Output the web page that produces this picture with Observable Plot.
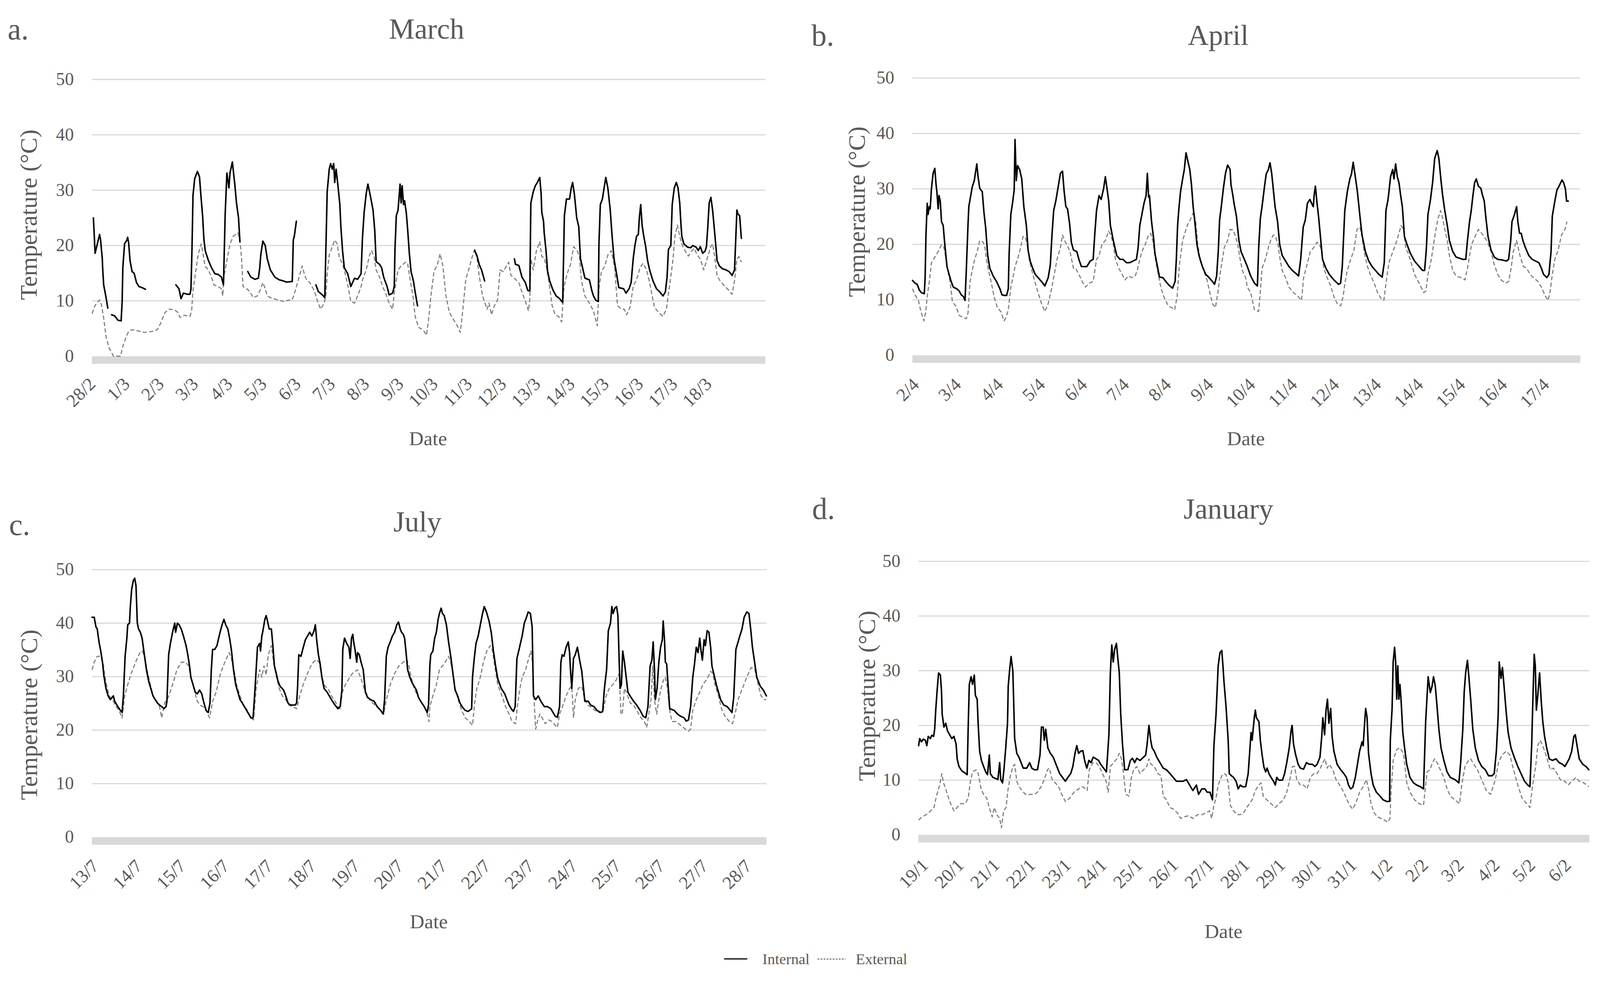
<!DOCTYPE html>
<html><head><meta charset="utf-8">
<script src="https://cdn.jsdelivr.net/npm/d3@7"></script>
<script src="https://cdn.jsdelivr.net/npm/@observablehq/plot@0.6"></script>
<style>
html,body{margin:0;padding:0;background:#fff;overflow:hidden;}
#page{position:absolute;left:0;top:0;width:4216px;height:2571px;overflow:hidden;font-family:"Liberation Serif",serif;color:#595959;background:#fff;transform-origin:0 0;}
.t{position:absolute;white-space:nowrap;line-height:1;}
.panel{position:absolute;}
</style></head><body><div id="page"></div>
<script>
// ---------- data ----------
const yTicks = [0, 10, 20, 30, 40, 50];
const marchLabels = ["28/2","1/3","2/3","3/3","4/3","5/3","6/3","7/3","8/3","9/3","10/3","11/3","12/3","13/3","14/3","15/3","16/3","17/3","18/3"];
const aprilLabels = ["2/4","3/4","4/4","5/4","6/4","7/4","8/4","9/4","10/4","11/4","12/4","13/4","14/4","15/4","16/4","17/4"];
const julyLabels = ["13/7","14/7","15/7","16/7","17/7","18/7","19/7","20/7","21/7","22/7","23/7","24/7","25/7","26/7","27/7","28/7"];
const januaryLabels = ["19/1","20/1","21/1","22/1","23/1","24/1","25/1","26/1","27/1","28/1","29/1","30/1","31/1","1/2","2/2","3/2","4/2","5/2","6/2"];
const seriesNames = ["Internal", "External"];

// [day index, °C]; null = logger gap
const marchInternal = [[0.04,25.0],[0.09,18.6],[0.22,22.0],[0.25,21.0],[0.30,17.6],[0.31,16.0],[0.34,12.9],[0.41,10.6],[0.46,8.7],[0.51,null],
[0.57,7.5],[0.66,7.3],[0.76,6.5],[0.85,6.4],[0.88,9.9],[0.90,16.0],[0.95,20.3],[1.02,21.0],[1.04,21.5],[1.07,20.5],[1.11,17.3],[1.17,15.3],[1.23,15.0],[1.30,13.3],[1.37,12.6],[1.46,12.4],[1.56,12.1],[2.0,null],
[2.45,12.9],[2.54,12.2],[2.60,10.4],[2.67,11.4],[2.79,11.2],[2.86,11.2],[2.89,12.1],[2.92,19.3],[2.95,29.1],[3.00,32.1],[3.08,33.4],[3.14,32.4],[3.18,29.1],[3.23,25.4],[3.27,21.0],[3.31,19.0],[3.40,17.3],[3.49,16.0],[3.59,14.9],[3.68,14.8],[3.78,14.3],[3.84,12.9],[3.89,25.7],[3.94,33.1],[4.00,30.4],[4.03,33.1],[4.10,35.1],[4.17,31.1],[4.22,27.7],[4.28,25.0],[4.32,20.7],[4.43,null],
[4.55,15.3],[4.64,14.3],[4.76,13.9],[4.86,14.1],[4.90,16.0],[4.93,18.3],[4.99,20.8],[5.06,20.0],[5.12,17.6],[5.21,15.6],[5.34,14.3],[5.47,13.8],[5.59,13.6],[5.68,13.4],[5.85,13.5],[5.88,21.0],[5.91,21.7],[5.97,24.4],[6.3,null],
[6.54,12.9],[6.61,11.7],[6.71,11.2],[6.80,10.6],[6.87,29.7],[6.93,33.8],[6.97,34.8],[7.02,33.8],[7.06,34.8],[7.09,31.4],[7.13,33.8],[7.18,31.1],[7.24,27.4],[7.27,23.4],[7.32,19.0],[7.37,16.0],[7.47,14.9],[7.56,12.6],[7.67,14.1],[7.76,13.9],[7.86,14.9],[7.90,21.3],[7.95,26.0],[8.01,29.4],[8.06,31.1],[8.14,28.7],[8.21,26.4],[8.26,22.7],[8.30,17.1],[8.40,16.6],[8.46,16.0],[8.52,14.3],[8.62,12.6],[8.68,11.1],[8.78,11.4],[8.83,12.6],[8.85,19.3],[8.89,25.4],[8.94,26.4],[9.00,31.1],[9.03,27.7],[9.06,30.8],[9.10,27.4],[9.13,28.1],[9.18,26.0],[9.22,23.0],[9.27,18.6],[9.32,15.3],[9.39,13.6],[9.44,11.6],[9.51,9.1],[10.3,null],
[11.18,19.1],[11.25,18.1],[11.31,16.6],[11.38,15.6],[11.47,13.6],[11.9,null],
[12.34,17.6],[12.37,16.6],[12.47,16.4],[12.56,14.3],[12.66,13.3],[12.73,11.9],[12.79,11.8],[12.82,27.7],[12.89,29.7],[12.95,30.8],[13.01,31.4],[13.08,32.3],[13.12,29.4],[13.14,26.0],[13.19,24.4],[13.21,22.3],[13.26,19.3],[13.31,15.3],[13.37,13.6],[13.47,11.9],[13.56,10.9],[13.66,10.4],[13.75,9.7],[13.80,25.4],[13.86,28.4],[13.95,28.4],[14.00,30.4],[14.04,31.4],[14.09,29.4],[14.16,25.0],[14.22,23.4],[14.27,17.6],[14.33,16.0],[14.40,14.1],[14.53,13.8],[14.60,11.9],[14.65,10.9],[14.72,10.1],[14.79,9.9],[14.81,20.3],[14.85,27.4],[14.91,28.4],[14.96,30.4],[15.01,32.3],[15.07,30.4],[15.14,26.4],[15.19,22.0],[15.25,17.6],[15.34,14.3],[15.39,12.4],[15.53,12.2],[15.60,11.4],[15.69,12.2],[15.75,13.3],[15.81,17.6],[15.86,20.0],[15.91,21.7],[15.96,22.0],[15.99,25.0],[16.03,27.4],[16.07,23.7],[16.11,22.0],[16.17,20.0],[16.23,17.3],[16.29,15.6],[16.39,13.6],[16.49,12.2],[16.59,11.6],[16.68,10.9],[16.75,11.6],[16.80,14.3],[16.84,19.3],[16.91,20.0],[16.95,27.4],[17.01,30.4],[17.07,31.4],[17.12,30.4],[17.17,27.7],[17.20,24.4],[17.23,21.7],[17.29,20.3],[17.40,19.7],[17.49,19.6],[17.55,20.0],[17.65,19.7],[17.71,19.1],[17.77,19.8],[17.84,18.6],[17.91,19.0],[17.95,19.8],[17.99,23.4],[18.03,27.7],[18.08,28.7],[18.13,26.4],[18.16,24.4],[18.21,21.0],[18.26,17.3],[18.33,16.3],[18.42,15.8],[18.52,15.6],[18.61,15.3],[18.70,14.6],[18.77,15.6],[18.79,18.6],[18.84,26.4],[18.87,25.7],[18.92,25.4],[18.97,21.3]];

const marchExternal = [[0.00,7.7],[0.09,9.2],[0.22,10.2],[0.28,9.2],[0.34,6.9],[0.41,3.5],[0.50,1.5],[0.63,0.0],[0.73,0.0],[0.83,0.0],[0.90,1.8],[0.98,3.2],[1.07,4.5],[1.17,4.8],[1.33,4.6],[1.52,4.3],[1.77,4.5],[1.91,4.8],[2.00,5.9],[2.13,7.9],[2.25,8.5],[2.41,8.4],[2.51,7.9],[2.57,7.0],[2.70,7.4],[2.86,7.2],[2.91,8.2],[2.95,11.9],[3.02,14.9],[3.08,17.6],[3.14,19.3],[3.19,20.3],[3.24,18.6],[3.30,16.3],[3.40,15.6],[3.49,14.3],[3.56,12.9],[3.68,12.6],[3.78,12.2],[3.82,10.9],[3.85,14.3],[3.94,17.3],[4.03,20.3],[4.13,21.7],[4.26,22.3],[4.32,21.0],[4.37,17.6],[4.41,12.6],[4.52,12.2],[4.61,11.7],[4.71,10.6],[4.83,10.9],[4.93,12.2],[4.99,13.3],[5.06,12.2],[5.12,10.9],[5.21,10.6],[5.40,10.2],[5.60,9.9],[5.72,10.1],[5.85,10.2],[5.94,11.9],[6.05,14.3],[6.14,16.3],[6.20,14.9],[6.26,13.9],[6.36,13.3],[6.49,11.9],[6.59,9.9],[6.68,8.5],[6.78,9.6],[6.83,10.9],[6.87,14.9],[6.93,18.3],[6.99,19.3],[7.09,21.0],[7.16,20.3],[7.22,18.0],[7.32,16.6],[7.37,15.6],[7.47,12.9],[7.56,9.9],[7.67,9.6],[7.76,10.9],[7.86,12.6],[7.91,13.9],[8.01,15.6],[8.11,18.3],[8.17,19.1],[8.24,18.0],[8.30,15.6],[8.40,14.3],[8.49,12.6],[8.59,11.2],[8.68,9.6],[8.78,8.5],[8.84,11.9],[8.94,15.6],[9.03,16.3],[9.16,17.0],[9.22,16.8],[9.29,13.9],[9.37,11.2],[9.44,7.2],[9.54,5.2],[9.67,4.8],[9.77,3.8],[9.83,6.5],[9.90,10.9],[9.99,15.3],[10.09,16.6],[10.17,18.5],[10.25,16.3],[10.34,10.9],[10.44,7.9],[10.57,6.5],[10.67,5.5],[10.76,4.3],[10.83,8.2],[10.92,13.9],[11.02,16.0],[11.11,18.0],[11.18,19.3],[11.25,17.6],[11.31,14.6],[11.41,10.9],[11.54,8.5],[11.60,9.6],[11.67,7.5],[11.76,9.2],[11.85,10.2],[11.92,15.6],[12.01,15.3],[12.08,16.0],[12.17,17.0],[12.24,14.6],[12.37,13.9],[12.47,13.3],[12.56,11.6],[12.66,9.9],[12.75,8.2],[12.79,10.2],[12.82,17.6],[12.89,15.6],[12.98,19.0],[13.08,20.7],[13.14,18.0],[13.21,17.8],[13.28,16.0],[13.33,14.3],[13.44,9.2],[13.53,7.5],[13.63,7.2],[13.72,6.2],[13.79,12.6],[13.88,14.9],[13.98,16.6],[14.07,19.8],[14.18,19.0],[14.24,18.0],[14.30,13.6],[14.40,10.9],[14.53,9.6],[14.65,8.2],[14.76,5.5],[14.81,12.2],[14.88,15.3],[14.98,16.3],[15.07,18.3],[15.17,19.1],[15.27,16.0],[15.35,9.2],[15.46,8.5],[15.55,8.5],[15.62,7.5],[15.72,8.9],[15.81,12.6],[15.91,13.9],[16.01,16.0],[16.10,16.8],[16.20,15.6],[16.29,13.3],[16.43,8.9],[16.55,7.9],[16.68,7.2],[16.78,8.5],[16.87,12.6],[16.97,17.3],[17.03,21.7],[17.10,23.7],[17.17,21.7],[17.23,20.3],[17.33,19.0],[17.42,18.1],[17.52,19.0],[17.59,19.5],[17.68,18.3],[17.77,17.6],[17.87,15.6],[17.97,17.6],[18.07,19.7],[18.13,20.3],[18.19,18.0],[18.26,14.6],[18.35,13.6],[18.49,12.6],[18.61,11.9],[18.70,11.2],[18.77,13.6],[18.84,17.6],[18.90,18.0],[18.97,17.0]];

const aprilInternal = [[0.00,13.5],[0.06,13.0],[0.11,12.8],[0.16,11.8],[0.21,11.3],[0.28,11.1],[0.30,14.0],[0.32,21.7],[0.35,27.4],[0.37,25.4],[0.40,26.8],[0.42,26.4],[0.45,30.0],[0.49,32.8],[0.53,33.7],[0.56,30.8],[0.58,29.5],[0.61,26.4],[0.63,28.8],[0.66,27.8],[0.69,24.1],[0.73,23.4],[0.76,20.7],[0.82,16.0],[0.87,14.6],[0.92,13.3],[0.97,12.3],[1.05,12.0],[1.11,11.6],[1.16,10.9],[1.21,10.6],[1.25,9.9],[1.28,15.3],[1.32,23.4],[1.34,26.8],[1.37,28.1],[1.42,30.3],[1.47,31.5],[1.53,34.5],[1.56,32.2],[1.60,30.1],[1.66,29.5],[1.70,25.8],[1.74,23.1],[1.79,18.0],[1.84,15.7],[1.92,14.3],[2.00,13.3],[2.08,12.0],[2.13,10.9],[2.18,10.8],[2.24,10.8],[2.28,12.0],[2.30,18.4],[2.34,25.4],[2.38,27.4],[2.42,29.8],[2.44,38.9],[2.47,31.5],[2.50,34.2],[2.55,33.5],[2.60,31.8],[2.65,26.8],[2.71,23.4],[2.75,19.0],[2.80,17.0],[2.86,15.7],[2.92,14.6],[2.99,14.0],[3.07,13.3],[3.15,12.5],[3.23,14.0],[3.28,16.3],[3.32,21.7],[3.36,26.1],[3.41,27.8],[3.47,30.5],[3.52,32.8],[3.57,33.2],[3.61,29.5],[3.65,26.8],[3.69,26.4],[3.74,23.7],[3.78,20.4],[3.83,19.0],[3.91,18.7],[3.96,17.3],[4.02,16.0],[4.07,16.0],[4.15,16.0],[4.23,17.0],[4.30,17.3],[4.34,22.0],[4.38,26.1],[4.44,28.8],[4.49,28.1],[4.55,30.1],[4.59,32.2],[4.64,29.5],[4.67,27.8],[4.71,23.4],[4.78,20.7],[4.86,18.0],[4.94,17.3],[5.01,17.3],[5.09,16.7],[5.17,16.7],[5.25,17.0],[5.33,17.3],[5.37,19.4],[5.41,23.4],[5.46,25.4],[5.51,27.4],[5.56,28.8],[5.59,32.8],[5.62,28.5],[5.64,28.8],[5.69,24.1],[5.74,21.0],[5.77,18.4],[5.83,16.0],[5.88,14.1],[5.96,14.0],[6.03,13.3],[6.11,12.6],[6.19,12.1],[6.25,13.3],[6.28,17.3],[6.31,23.4],[6.34,26.4],[6.38,29.5],[6.43,31.8],[6.47,33.5],[6.51,36.5],[6.54,35.5],[6.60,33.5],[6.64,30.8],[6.68,26.8],[6.72,24.1],[6.77,20.0],[6.82,18.0],[6.90,16.0],[6.98,14.6],[7.06,14.0],[7.14,13.3],[7.19,12.8],[7.24,14.3],[7.28,19.0],[7.31,24.4],[7.35,26.8],[7.40,30.1],[7.45,32.8],[7.50,34.3],[7.56,33.5],[7.58,30.8],[7.62,29.1],[7.66,27.1],[7.71,25.1],[7.77,20.7],[7.82,18.7],[7.90,17.3],[7.97,16.0],[8.05,14.3],[8.14,13.0],[8.21,12.5],[8.24,19.4],[8.28,24.7],[8.32,26.8],[8.38,30.5],[8.42,32.7],[8.47,33.5],[8.51,34.7],[8.55,32.8],[8.59,29.8],[8.63,26.8],[8.69,24.1],[8.74,20.0],[8.80,18.0],[8.88,17.0],[8.96,16.0],[9.04,15.3],[9.12,14.8],[9.19,14.3],[9.24,17.3],[9.30,23.1],[9.35,24.4],[9.40,27.4],[9.46,28.1],[9.50,27.4],[9.54,26.8],[9.56,28.8],[9.59,30.5],[9.63,27.4],[9.67,24.7],[9.71,21.4],[9.76,17.3],[9.84,15.7],[9.92,14.6],[10.03,13.6],[10.14,12.8],[10.19,13.0],[10.23,16.0],[10.29,26.1],[10.35,29.5],[10.41,31.8],[10.45,32.7],[10.49,34.8],[10.54,32.2],[10.59,29.5],[10.65,25.1],[10.70,21.7],[10.78,18.7],[10.86,17.0],[10.94,16.0],[11.02,15.3],[11.10,14.6],[11.18,14.1],[11.23,16.7],[11.27,26.1],[11.32,28.1],[11.38,32.2],[11.43,33.5],[11.46,31.8],[11.50,34.5],[11.54,32.2],[11.58,31.1],[11.62,28.8],[11.66,26.8],[11.71,21.4],[11.77,20.0],[11.85,18.4],[11.95,17.0],[12.06,16.0],[12.14,15.3],[12.19,15.3],[12.23,19.0],[12.27,25.4],[12.33,28.1],[12.38,31.1],[12.43,35.5],[12.49,36.9],[12.53,35.5],[12.58,31.5],[12.62,28.8],[12.67,26.1],[12.73,23.4],[12.78,20.7],[12.86,18.7],[12.94,17.7],[13.02,17.5],[13.10,17.3],[13.17,17.3],[13.21,20.7],[13.26,24.1],[13.30,26.1],[13.34,28.8],[13.38,31.1],[13.42,31.8],[13.47,30.5],[13.53,30.1],[13.56,29.1],[13.61,27.8],[13.65,24.7],[13.70,21.4],[13.77,19.0],[13.85,17.7],[13.93,17.3],[14.03,17.2],[14.14,17.0],[14.19,17.3],[14.24,20.7],[14.27,24.1],[14.33,25.4],[14.38,26.8],[14.41,24.1],[14.45,22.0],[14.49,22.0],[14.53,20.7],[14.59,19.4],[14.67,18.0],[14.75,17.3],[14.83,17.0],[14.91,16.7],[14.97,15.7],[15.02,14.6],[15.10,14.0],[15.15,14.6],[15.20,18.7],[15.23,25.1],[15.29,27.8],[15.34,29.8],[15.39,30.5],[15.46,31.6],[15.50,31.1],[15.54,30.1],[15.57,27.8],[15.61,27.8]];

const aprilExternal = [[0.00,12.0],[0.06,10.9],[0.14,9.9],[0.20,7.9],[0.27,6.2],[0.31,7.6],[0.35,10.6],[0.40,13.3],[0.45,16.7],[0.53,17.7],[0.61,18.7],[0.69,19.9],[0.74,19.7],[0.79,17.7],[0.84,15.3],[0.90,13.0],[0.95,9.6],[1.03,8.9],[1.11,7.2],[1.18,6.9],[1.28,6.6],[1.32,7.6],[1.37,13.3],[1.42,15.3],[1.47,17.0],[1.55,19.0],[1.60,20.7],[1.68,20.4],[1.72,19.7],[1.76,17.3],[1.81,15.3],[1.87,13.3],[1.94,10.6],[2.02,8.6],[2.10,7.9],[2.18,6.2],[2.23,6.9],[2.28,8.2],[2.34,12.3],[2.39,14.0],[2.44,16.0],[2.50,17.3],[2.55,18.7],[2.63,21.4],[2.68,21.4],[2.73,20.0],[2.78,17.3],[2.84,15.3],[2.92,13.0],[2.99,11.3],[3.07,9.3],[3.15,7.9],[3.23,9.3],[3.31,12.0],[3.36,14.0],[3.44,17.3],[3.52,19.4],[3.57,21.7],[3.62,20.7],[3.67,20.0],[3.75,18.7],[3.83,15.7],[3.88,15.7],[3.96,14.6],[4.04,13.3],[4.12,12.3],[4.20,13.0],[4.30,13.3],[4.38,17.3],[4.44,18.0],[4.51,20.0],[4.59,20.7],[4.67,22.4],[4.72,21.7],[4.78,20.0],[4.83,17.3],[4.91,15.7],[4.99,14.6],[5.06,13.6],[5.14,14.3],[5.22,14.0],[5.30,14.3],[5.35,15.3],[5.41,17.3],[5.46,18.7],[5.54,20.0],[5.62,21.7],[5.67,22.0],[5.72,20.7],[5.77,18.0],[5.83,15.3],[5.91,12.3],[5.98,10.6],[6.09,8.9],[6.17,8.6],[6.24,8.2],[6.30,10.6],[6.35,16.0],[6.43,20.7],[6.54,23.4],[6.61,24.4],[6.69,25.8],[6.74,24.1],[6.79,20.0],[6.85,17.0],[6.93,15.3],[7.01,13.6],[7.09,10.9],[7.14,9.3],[7.21,8.6],[7.27,11.3],[7.32,14.6],[7.37,17.0],[7.42,19.4],[7.50,20.7],[7.56,22.7],[7.63,22.6],[7.69,21.4],[7.74,20.0],[7.80,17.3],[7.85,15.3],[7.93,14.0],[7.97,12.3],[8.05,11.3],[8.14,8.2],[8.24,7.9],[8.27,10.6],[8.32,15.7],[8.40,17.3],[8.48,19.7],[8.54,21.0],[8.59,21.7],[8.64,21.4],[8.70,20.0],[8.75,17.3],[8.80,15.3],[8.88,14.0],[8.96,12.3],[9.07,11.3],[9.18,10.6],[9.26,9.9],[9.31,14.0],[9.39,16.3],[9.47,18.7],[9.55,19.4],[9.63,20.4],[9.69,20.0],[9.74,18.7],[9.79,15.7],[9.87,14.0],[9.95,12.6],[10.03,10.6],[10.11,9.3],[10.19,8.9],[10.25,10.6],[10.30,13.3],[10.35,15.3],[10.43,17.3],[10.51,19.0],[10.58,22.7],[10.65,23.1],[10.70,21.4],[10.75,18.7],[10.83,16.0],[10.91,14.3],[10.99,13.0],[11.07,11.3],[11.15,10.3],[11.22,9.9],[11.27,13.0],[11.34,16.7],[11.42,18.4],[11.50,20.0],[11.58,22.0],[11.63,23.4],[11.69,22.7],[11.74,19.4],[11.80,18.4],[11.87,16.7],[11.95,14.6],[12.06,13.0],[12.17,11.3],[12.22,11.6],[12.27,14.6],[12.35,17.3],[12.43,21.4],[12.51,24.7],[12.57,26.1],[12.62,24.7],[12.67,22.7],[12.73,20.7],[12.78,18.0],[12.86,15.3],[12.94,14.3],[13.05,14.0],[13.15,13.6],[13.21,15.7],[13.26,18.0],[13.31,20.0],[13.39,21.4],[13.47,22.7],[13.55,22.0],[13.61,21.4],[13.69,20.4],[13.77,18.7],[13.85,16.3],[13.93,14.6],[14.01,13.6],[14.11,13.0],[14.19,13.3],[14.25,15.7],[14.30,18.7],[14.38,20.7],[14.46,18.0],[14.54,16.0],[14.62,15.7],[14.70,14.6],[14.78,14.0],[14.89,13.3],[14.97,12.3],[15.05,10.9],[15.13,9.9],[15.18,11.6],[15.23,14.6],[15.29,17.3],[15.37,19.0],[15.45,21.7],[15.53,22.7],[15.58,24.1]];

const julyInternal = [[0.00,41.1],[0.05,41.1],[0.09,39.3],[0.12,38.9],[0.16,36.5],[0.20,34.8],[0.24,32.7],[0.27,30.3],[0.32,27.8],[0.37,26.4],[0.42,25.7],[0.49,26.4],[0.52,25.4],[0.57,24.7],[0.65,23.7],[0.69,23.3],[0.72,26.4],[0.76,33.8],[0.80,37.2],[0.82,39.7],[0.86,40.0],[0.88,43.1],[0.91,46.3],[0.95,48.0],[0.98,48.4],[1.01,47.0],[1.04,40.0],[1.07,38.9],[1.11,38.3],[1.15,37.2],[1.19,34.8],[1.25,31.3],[1.30,29.2],[1.35,27.8],[1.40,26.4],[1.45,25.7],[1.50,25.1],[1.55,24.7],[1.60,24.4],[1.65,24.0],[1.70,24.4],[1.72,25.4],[1.76,34.1],[1.80,36.2],[1.85,38.3],[1.90,40.0],[1.92,38.3],[1.96,40.0],[2.00,39.7],[2.05,38.9],[2.10,37.6],[2.16,35.8],[2.20,34.1],[2.24,32.0],[2.27,29.9],[2.32,28.5],[2.37,27.1],[2.42,26.8],[2.47,27.5],[2.52,26.8],[2.57,25.1],[2.62,23.7],[2.67,23.3],[2.71,25.1],[2.74,31.3],[2.77,35.1],[2.82,35.1],[2.87,35.8],[2.92,37.6],[2.96,38.9],[3.00,40.0],[3.03,40.7],[3.07,39.7],[3.12,38.9],[3.16,37.2],[3.20,35.1],[3.25,31.3],[3.30,28.5],[3.35,27.1],[3.40,25.7],[3.45,25.1],[3.50,24.4],[3.55,23.7],[3.60,23.0],[3.65,22.3],[3.70,22.3],[3.72,24.7],[3.75,28.5],[3.80,35.5],[3.85,36.2],[3.87,34.8],[3.90,37.6],[3.92,38.3],[3.97,40.7],[4.00,41.4],[4.03,40.4],[4.07,38.9],[4.12,38.9],[4.15,36.2],[4.19,32.0],[4.22,31.0],[4.27,29.2],[4.32,28.2],[4.40,27.5],[4.45,26.4],[4.50,25.1],[4.55,24.7],[4.62,24.7],[4.67,24.7],[4.70,25.1],[4.72,27.8],[4.75,34.1],[4.80,33.8],[4.84,35.1],[4.90,36.9],[4.95,37.6],[5.00,38.3],[5.05,37.6],[5.10,38.6],[5.13,39.7],[5.16,36.9],[5.20,34.1],[5.24,32.4],[5.28,29.9],[5.33,27.8],[5.40,27.1],[5.45,26.4],[5.50,25.7],[5.58,24.7],[5.65,24.0],[5.70,24.4],[5.74,27.5],[5.76,35.1],[5.80,37.2],[5.85,36.2],[5.90,35.5],[5.93,33.4],[5.96,37.2],[5.99,37.9],[6.01,36.5],[6.04,35.1],[6.08,32.7],[6.10,34.5],[6.14,34.1],[6.18,32.7],[6.23,31.3],[6.28,27.1],[6.33,26.1],[6.40,25.7],[6.48,25.4],[6.55,24.4],[6.63,23.7],[6.69,23.0],[6.72,25.7],[6.76,33.8],[6.80,35.5],[6.85,36.5],[6.90,37.6],[6.95,38.3],[7.00,39.7],[7.04,40.2],[7.08,38.9],[7.11,38.3],[7.15,37.9],[7.18,37.2],[7.21,34.8],[7.25,31.3],[7.30,29.9],[7.35,28.9],[7.40,28.2],[7.45,27.5],[7.50,26.1],[7.55,25.4],[7.63,24.4],[7.70,23.3],[7.73,24.7],[7.76,32.0],[7.78,34.1],[7.83,34.8],[7.87,37.2],[7.91,38.3],[7.95,40.7],[7.98,41.8],[8.02,42.8],[8.05,41.8],[8.09,41.4],[8.14,39.7],[8.19,36.5],[8.24,33.8],[8.29,30.6],[8.34,27.5],[8.40,26.4],[8.45,25.1],[8.50,24.4],[8.57,23.7],[8.64,23.5],[8.72,24.0],[8.74,29.9],[8.78,33.4],[8.82,36.2],[8.87,37.6],[8.92,39.7],[8.97,41.8],[9.01,43.1],[9.06,42.1],[9.12,40.4],[9.17,38.3],[9.22,34.8],[9.27,32.0],[9.32,29.6],[9.40,27.8],[9.48,26.8],[9.53,25.7],[9.58,24.7],[9.63,24.0],[9.68,23.5],[9.72,24.4],[9.76,33.4],[9.81,35.1],[9.84,36.2],[9.88,37.6],[9.93,40.0],[9.98,41.1],[10.02,42.1],[10.07,41.8],[10.11,39.3],[10.14,26.4],[10.19,25.7],[10.25,26.4],[10.31,25.4],[10.39,24.4],[10.46,24.4],[10.54,24.0],[10.59,23.3],[10.64,22.6],[10.69,22.4],[10.74,24.4],[10.77,32.7],[10.80,34.1],[10.84,33.8],[10.89,35.5],[10.94,36.5],[10.97,34.5],[10.99,31.3],[11.02,27.8],[11.06,33.4],[11.10,34.1],[11.15,35.5],[11.20,33.1],[11.25,31.0],[11.29,27.8],[11.32,25.4],[11.40,25.4],[11.45,24.7],[11.53,24.4],[11.60,23.7],[11.68,23.3],[11.73,23.5],[11.77,27.8],[11.82,31.3],[11.86,38.6],[11.91,40.0],[11.94,43.1],[11.97,41.8],[12.01,42.8],[12.05,43.1],[12.08,41.4],[12.11,32.7],[12.13,27.8],[12.16,28.5],[12.19,34.8],[12.23,32.7],[12.27,29.9],[12.31,27.1],[12.36,26.4],[12.44,25.4],[12.51,24.7],[12.59,23.7],[12.66,22.6],[12.72,22.3],[12.77,24.4],[12.82,32.0],[12.86,33.1],[12.89,36.5],[12.92,31.3],[12.94,25.7],[12.98,27.8],[13.02,32.7],[13.06,35.5],[13.10,36.9],[13.12,40.4],[13.15,36.9],[13.17,32.7],[13.20,32.4],[13.22,29.9],[13.27,24.0],[13.37,23.7],[13.45,23.0],[13.52,22.6],[13.60,22.3],[13.65,21.7],[13.70,21.9],[13.75,24.4],[13.80,29.9],[13.84,32.4],[13.88,35.5],[13.92,34.5],[13.96,37.2],[13.99,34.8],[14.02,33.1],[14.06,36.9],[14.09,35.8],[14.13,38.6],[14.17,38.3],[14.21,35.5],[14.24,32.0],[14.28,30.6],[14.34,28.5],[14.39,27.1],[14.44,25.7],[14.51,24.7],[14.59,24.4],[14.66,23.7],[14.70,23.3],[14.74,26.1],[14.79,35.1],[14.83,36.2],[14.88,37.6],[14.93,38.9],[14.98,41.1],[15.04,42.1],[15.09,41.8],[15.13,38.9],[15.17,35.5],[15.22,32.7],[15.27,29.9],[15.35,28.2],[15.42,27.5],[15.49,26.4]];

const julyExternal = [[0.00,31.3],[0.05,32.7],[0.12,33.8],[0.20,33.8],[0.25,32.7],[0.30,29.9],[0.35,27.8],[0.40,26.4],[0.47,25.7],[0.55,24.4],[0.62,23.7],[0.69,22.3],[0.75,26.4],[0.82,28.5],[0.90,30.6],[1.00,32.7],[1.10,34.5],[1.15,34.8],[1.21,33.8],[1.26,31.3],[1.32,29.2],[1.40,26.4],[1.47,25.7],[1.55,24.4],[1.60,22.3],[1.67,25.1],[1.75,26.1],[1.85,28.5],[1.95,31.3],[2.05,32.7],[2.15,32.7],[2.22,32.0],[2.27,29.9],[2.35,27.8],[2.40,25.7],[2.47,24.7],[2.55,24.4],[2.62,23.7],[2.70,22.3],[2.77,25.4],[2.85,27.1],[2.95,30.6],[3.05,32.7],[3.15,34.5],[3.20,33.4],[3.26,31.3],[3.32,28.5],[3.40,26.4],[3.47,24.7],[3.57,23.7],[3.65,22.3],[3.71,21.9],[3.77,27.8],[3.85,31.3],[3.90,29.9],[3.95,32.0],[4.00,30.3],[4.05,34.1],[4.12,35.8],[4.17,32.7],[4.22,30.6],[4.30,27.8],[4.37,26.4],[4.45,25.7],[4.52,24.7],[4.60,24.4],[4.70,24.0],[4.77,26.4],[4.85,28.5],[4.95,30.6],[5.05,32.4],[5.15,33.2],[5.22,32.7],[5.28,29.9],[5.35,28.2],[5.42,27.8],[5.50,26.4],[5.58,25.4],[5.65,24.4],[5.70,24.0],[5.75,27.1],[5.82,28.5],[5.90,29.6],[5.98,30.6],[6.05,31.0],[6.10,31.3],[6.18,29.6],[6.25,27.8],[6.33,26.4],[6.40,25.4],[6.50,24.7],[6.60,24.0],[6.70,23.0],[6.76,25.7],[6.85,28.5],[6.95,30.6],[7.05,32.0],[7.15,32.7],[7.23,33.2],[7.28,32.0],[7.33,29.9],[7.40,27.8],[7.48,26.4],[7.55,25.4],[7.63,24.4],[7.70,23.0],[7.74,21.6],[7.76,24.4],[7.83,26.4],[7.91,28.5],[7.98,31.3],[8.09,32.4],[8.19,33.8],[8.24,32.7],[8.29,30.6],[8.34,27.8],[8.41,25.7],[8.49,23.7],[8.57,22.3],[8.67,21.6],[8.74,20.9],[8.79,25.1],[8.84,27.8],[8.92,29.9],[8.99,32.7],[9.07,34.8],[9.15,35.8],[9.20,34.8],[9.25,32.0],[9.32,28.5],[9.43,26.1],[9.50,24.4],[9.58,23.0],[9.65,21.6],[9.73,21.2],[9.78,25.1],[9.83,27.8],[9.88,29.9],[9.96,31.3],[10.03,33.4],[10.08,34.8],[10.12,32.7],[10.14,27.8],[10.19,20.2],[10.24,21.9],[10.29,23.0],[10.34,22.3],[10.41,21.2],[10.49,21.9],[10.57,21.6],[10.64,20.9],[10.69,20.5],[10.74,23.0],[10.82,24.7],[10.89,26.4],[10.97,27.8],[11.02,28.2],[11.06,22.3],[11.10,25.7],[11.17,27.8],[11.25,28.2],[11.30,26.4],[11.38,24.7],[11.45,24.4],[11.55,23.7],[11.65,23.3],[11.73,23.3],[11.81,26.4],[11.88,27.8],[11.96,28.5],[12.03,29.2],[12.11,30.6],[12.15,23.0],[12.18,23.0],[12.23,27.8],[12.29,26.8],[12.36,25.1],[12.44,24.7],[12.51,23.7],[12.61,22.3],[12.69,21.6],[12.74,20.5],[12.79,23.0],[12.84,25.7],[12.88,32.0],[12.92,25.7],[12.97,23.0],[13.02,25.7],[13.07,27.8],[13.12,29.2],[13.17,29.9],[13.22,27.8],[13.27,23.7],[13.32,21.6],[13.42,21.6],[13.52,20.9],[13.63,20.2],[13.70,19.8],[13.75,20.2],[13.80,23.7],[13.88,25.7],[13.96,27.1],[14.03,28.5],[14.13,29.6],[14.21,31.0],[14.26,30.6],[14.31,28.5],[14.39,26.4],[14.46,24.0],[14.54,22.6],[14.64,21.6],[14.71,21.2],[14.77,23.0],[14.84,25.7],[14.94,27.8],[15.04,29.9],[15.14,31.7],[15.22,31.5],[15.30,28.5],[15.37,26.4],[15.45,25.7],[15.49,25.7]];

const januaryInternal = [[0.00,16.3],[0.03,17.6],[0.08,17.0],[0.13,17.5],[0.19,17.3],[0.23,16.3],[0.27,18.0],[0.33,17.6],[0.37,18.2],[0.42,18.0],[0.45,19.3],[0.48,22.8],[0.52,26.5],[0.56,29.6],[0.61,29.2],[0.64,26.5],[0.66,22.1],[0.71,19.7],[0.76,20.4],[0.81,19.0],[0.87,18.3],[0.93,17.6],[0.99,18.0],[1.05,16.6],[1.08,13.9],[1.13,12.5],[1.21,11.7],[1.30,11.3],[1.36,11.0],[1.39,20.0],[1.42,27.5],[1.47,28.9],[1.51,27.5],[1.56,29.2],[1.59,25.5],[1.64,24.8],[1.67,20.0],[1.71,15.3],[1.76,13.6],[1.82,12.5],[1.88,11.5],[1.93,11.0],[1.98,14.6],[2.01,11.2],[2.08,10.5],[2.16,10.3],[2.22,10.1],[2.27,13.2],[2.30,10.1],[2.35,9.5],[2.39,11.9],[2.44,15.9],[2.49,20.4],[2.51,27.2],[2.55,30.2],[2.59,32.6],[2.64,29.9],[2.69,17.6],[2.75,14.9],[2.81,14.2],[2.87,13.2],[2.93,12.2],[3.03,12.2],[3.11,13.2],[3.17,12.2],[3.24,11.9],[3.33,11.9],[3.40,14.6],[3.44,19.7],[3.49,19.7],[3.52,17.3],[3.56,19.3],[3.62,15.9],[3.69,14.9],[3.77,14.2],[3.83,13.2],[3.89,12.2],[3.95,11.2],[4.03,10.5],[4.11,9.8],[4.18,10.5],[4.26,11.2],[4.32,12.5],[4.38,14.9],[4.43,16.3],[4.48,14.9],[4.54,15.3],[4.60,15.4],[4.65,13.6],[4.71,12.2],[4.77,13.6],[4.83,13.2],[4.89,14.2],[4.97,13.9],[5.04,13.6],[5.10,12.9],[5.18,12.2],[5.26,11.5],[5.33,18.3],[5.37,29.6],[5.41,34.7],[5.45,31.6],[5.49,33.9],[5.54,35.0],[5.57,32.9],[5.62,29.6],[5.66,22.1],[5.71,16.6],[5.77,11.9],[5.86,11.9],[5.93,13.6],[5.99,14.0],[6.05,13.2],[6.11,14.0],[6.20,13.6],[6.30,14.2],[6.36,14.6],[6.40,16.6],[6.45,20.0],[6.50,17.3],[6.54,15.9],[6.60,15.3],[6.67,14.2],[6.76,13.2],[6.85,12.2],[6.94,11.9],[7.04,11.2],[7.13,10.5],[7.22,9.8],[7.31,9.8],[7.41,9.8],[7.50,10.1],[7.59,9.1],[7.68,8.1],[7.78,9.1],[7.84,7.4],[7.93,8.4],[8.02,8.4],[8.08,7.8],[8.16,7.8],[8.23,6.4],[8.27,16.3],[8.33,22.1],[8.39,30.9],[8.44,33.3],[8.49,33.7],[8.52,31.2],[8.55,28.2],[8.61,23.4],[8.67,17.3],[8.70,11.2],[8.76,10.8],[8.82,10.5],[8.89,9.8],[8.95,8.4],[9.01,9.1],[9.07,8.8],[9.16,8.8],[9.23,11.2],[9.31,18.7],[9.34,17.3],[9.40,21.4],[9.43,22.8],[9.46,21.4],[9.53,20.7],[9.57,17.3],[9.62,14.6],[9.67,12.4],[9.72,11.5],[9.76,12.2],[9.81,11.2],[9.87,10.5],[9.94,9.8],[9.99,9.1],[10.03,10.5],[10.09,10.0],[10.19,10.0],[10.25,11.2],[10.31,13.2],[10.38,15.9],[10.43,19.0],[10.46,20.0],[10.50,16.6],[10.56,14.6],[10.63,12.9],[10.69,12.2],[10.78,12.0],[10.86,13.2],[10.94,12.9],[11.03,12.9],[11.10,12.5],[11.16,12.9],[11.24,14.2],[11.29,18.0],[11.32,21.4],[11.37,18.3],[11.41,22.8],[11.45,24.8],[11.49,20.4],[11.54,23.1],[11.58,18.0],[11.63,15.3],[11.72,12.9],[11.82,11.9],[11.91,11.2],[11.98,10.5],[12.04,9.1],[12.10,8.4],[12.16,8.7],[12.23,10.5],[12.29,12.9],[12.35,15.3],[12.42,17.0],[12.45,16.3],[12.50,21.4],[12.52,23.1],[12.56,21.4],[12.60,14.9],[12.67,11.2],[12.73,9.1],[12.82,7.8],[12.92,7.1],[13.01,6.4],[13.11,6.1],[13.19,6.1],[13.21,17.3],[13.26,23.1],[13.29,31.6],[13.33,34.3],[13.36,31.6],[13.39,24.8],[13.42,30.9],[13.45,24.8],[13.48,27.5],[13.51,24.8],[13.56,18.7],[13.61,15.9],[13.67,12.9],[13.76,10.5],[13.86,9.5],[13.95,9.1],[14.05,8.8],[14.14,8.4],[14.20,20.7],[14.27,28.9],[14.33,26.0],[14.38,27.2],[14.42,28.9],[14.47,27.2],[14.52,23.4],[14.57,19.3],[14.63,15.9],[14.71,13.6],[14.80,11.5],[14.89,10.5],[15.02,10.1],[15.13,9.5],[15.18,13.2],[15.24,19.3],[15.28,26.2],[15.32,29.6],[15.37,31.9],[15.41,28.9],[15.46,24.8],[15.52,19.3],[15.59,15.9],[15.68,13.6],[15.77,12.5],[15.87,11.9],[15.96,10.8],[16.06,10.8],[16.12,11.2],[16.18,15.3],[16.23,21.7],[16.26,31.6],[16.31,28.6],[16.35,30.6],[16.40,26.8],[16.45,22.8],[16.51,18.7],[16.59,15.9],[16.68,14.2],[16.78,12.5],[16.87,11.2],[16.97,9.8],[17.06,9.1],[17.12,8.8],[17.17,16.6],[17.20,24.1],[17.24,33.0],[17.27,30.9],[17.30,22.8],[17.34,25.5],[17.39,29.6],[17.44,24.1],[17.48,20.7],[17.53,18.0],[17.59,15.9],[17.66,13.9],[17.75,13.6],[17.85,13.9],[17.94,13.2],[18.03,12.9],[18.10,12.5],[18.16,13.2],[18.22,13.9],[18.29,15.3],[18.35,18.0],[18.39,18.3],[18.44,16.3],[18.50,13.9],[18.60,12.9],[18.69,12.5],[18.77,11.9]];

const januaryExternal = [[0.00,2.7],[0.10,3.3],[0.22,3.7],[0.34,4.4],[0.43,5.0],[0.50,7.1],[0.59,9.1],[0.65,11.2],[0.70,9.5],[0.76,8.4],[0.87,6.1],[0.99,4.4],[1.08,5.0],[1.18,5.7],[1.30,5.7],[1.39,6.7],[1.45,9.8],[1.51,11.5],[1.61,11.9],[1.67,11.2],[1.75,8.4],[1.82,7.4],[1.91,6.7],[1.98,5.0],[2.06,3.3],[2.12,5.0],[2.19,3.7],[2.27,3.0],[2.32,1.3],[2.38,4.4],[2.45,5.0],[2.50,8.1],[2.56,10.5],[2.64,12.5],[2.69,12.9],[2.75,9.8],[2.81,8.8],[2.90,8.1],[2.99,7.4],[3.12,7.4],[3.24,7.4],[3.33,7.8],[3.43,8.8],[3.52,10.1],[3.61,11.9],[3.66,12.2],[3.74,10.1],[3.83,9.5],[3.92,8.8],[4.01,7.4],[4.11,6.1],[4.23,6.7],[4.35,7.8],[4.48,8.4],[4.60,8.8],[4.72,8.1],[4.78,11.9],[4.88,13.2],[4.97,13.2],[5.06,12.5],[5.15,11.2],[5.25,9.8],[5.31,7.8],[5.37,12.5],[5.46,13.2],[5.55,13.9],[5.62,14.9],[5.68,13.9],[5.74,11.2],[5.80,7.4],[5.89,7.1],[5.96,10.5],[6.02,11.9],[6.11,12.5],[6.20,11.2],[6.30,11.9],[6.39,12.5],[6.45,13.9],[6.51,12.9],[6.60,12.5],[6.70,11.2],[6.79,10.8],[6.85,7.1],[6.94,6.4],[7.04,5.0],[7.13,4.7],[7.25,4.0],[7.34,3.0],[7.44,3.3],[7.56,3.5],[7.68,3.0],[7.81,3.7],[7.93,3.7],[8.05,4.0],[8.15,4.4],[8.21,3.0],[8.27,5.4],[8.33,6.7],[8.39,9.1],[8.49,10.8],[8.55,11.2],[8.61,11.0],[8.67,9.5],[8.73,5.4],[8.82,4.4],[8.92,3.7],[9.01,3.7],[9.10,4.0],[9.19,5.0],[9.34,6.4],[9.43,8.1],[9.53,9.1],[9.59,9.5],[9.65,7.1],[9.75,6.4],[9.87,5.7],[9.99,5.0],[10.09,5.7],[10.22,6.4],[10.31,7.8],[10.41,10.5],[10.47,12.5],[10.53,12.5],[10.59,10.1],[10.69,9.1],[10.78,9.1],[10.88,8.4],[10.97,10.5],[11.07,11.2],[11.16,11.2],[11.25,12.2],[11.32,13.2],[11.38,13.9],[11.44,12.2],[11.50,12.9],[11.60,11.9],[11.69,10.1],[11.79,9.1],[11.88,8.1],[11.98,6.7],[12.07,5.4],[12.16,4.7],[12.26,6.1],[12.35,7.8],[12.45,8.8],[12.54,10.1],[12.60,8.4],[12.67,5.7],[12.76,4.0],[12.85,3.3],[12.95,3.0],[13.04,2.7],[13.14,2.3],[13.20,3.0],[13.23,7.8],[13.29,13.6],[13.39,15.6],[13.48,15.9],[13.58,14.9],[13.67,9.5],[13.76,7.8],[13.89,6.4],[14.02,5.7],[14.14,5.4],[14.24,11.5],[14.32,11.9],[14.39,13.2],[14.45,13.9],[14.52,13.2],[14.61,11.9],[14.71,10.5],[14.80,8.4],[14.89,7.1],[15.02,6.4],[15.15,5.7],[15.21,9.1],[15.30,12.5],[15.40,13.6],[15.46,13.9],[15.55,12.9],[15.65,11.9],[15.77,10.1],[15.90,8.1],[16.02,7.4],[16.15,10.1],[16.24,13.2],[16.34,14.6],[16.46,15.3],[16.56,14.6],[16.65,12.2],[16.78,9.1],[16.90,6.7],[17.03,5.7],[17.12,5.0],[17.19,8.8],[17.28,12.5],[17.34,16.3],[17.41,17.3],[17.50,15.9],[17.59,14.2],[17.69,11.9],[17.78,12.2],[17.88,11.2],[17.97,10.1],[18.10,9.8],[18.19,9.1],[18.29,9.8],[18.41,10.5],[18.50,9.8],[18.63,9.5],[18.77,8.8]];

// ---------- layout ----------
const page = document.getElementById("page");
const FONT = '"Liberation Serif", "DejaVu Serif", serif';
const GREY = "#595959";

// fit the 4216x2571 design into whatever viewport the page is given
const fit = Math.min(window.innerWidth / 4216, window.innerHeight / 2571);
if (isFinite(fit) && fit > 0 && Math.abs(fit - 1) > 0.001) page.style.transform = "scale(" + fit + ")";

const panels = [
  {letter:"a.", title:"March", labels:marchLabels, internal:marchInternal, external:marchExternal,
   left:0, top:150, width:2060, height:1000, ml:242, mr:43, mt:59, mb:211.5, xMax:19.68, labelDy:52, labelDx:-12,
   letterPos:[20,37], titlePos:[1124,38], yTitle:[76,566], datePos:[1128,1156]},
  {letter:"b.", title:"April", labels:aprilLabels, internal:aprilInternal, external:aprilExternal,
   left:2130, top:150, width:2086, height:1000, ml:274, mr:52, mt:55, mb:214, xMax:15.90, labelDy:56, labelDx:-4,
   letterPos:[2138,53], titlePos:[3210,54], yTitle:[2258,558], datePos:[3283,1156]},
  {letter:"c.", title:"July", labels:julyLabels, internal:julyInternal, external:julyExternal,
   left:0, top:1440, width:2060, height:960, ml:242, mr:40, mt:61, mb:194, xMax:15.50, labelDy:55, labelDx:-4,
   letterPos:[24,1343], titlePos:[1100,1337], yTitle:[77,1884], datePos:[1130,2429]},
  {letter:"d.", title:"January", labels:januaryLabels, internal:januaryInternal, external:januaryExternal,
   left:2130, top:1420, width:2086, height:960, ml:290, mr:28, mt:59, mb:180, xMax:18.79, labelDy:59, labelDx:4,
   letterPos:[2140,1301], titlePos:[3237,1303], yTitle:[2285,1834], datePos:[3224,2455]}
];

function addText(txt, x, y, size, extra){
  const d = document.createElement("div");
  d.className = "t";
  d.textContent = txt;
  d.style.left = x + "px";
  d.style.top = y + "px";
  d.style.fontSize = size + "px";
  if (extra) Object.assign(d.style, extra);
  page.appendChild(d);
  return d;
}

for (const p of panels) {
  const svg = Plot.plot({
    width: p.width, height: p.height,
    marginLeft: p.ml, marginRight: p.mr, marginTop: p.mt, marginBottom: p.mb,
    x: {domain: [0, p.xMax], axis: null},
    y: {domain: [0, 50], axis: null},
    style: {fontFamily: FONT, background: "transparent", overflow: "visible"},
    marks: [
      Plot.ruleY(yTicks.filter(v => v > 0), {stroke: "#d9d9d9", strokeWidth: 3}),
      Plot.ruleY([0], {stroke: "#d9d9d9", strokeWidth: 20, dy: 10}),
      Plot.line(p.external, {x: d => d[0], y: d => d[1], stroke: "#808080", strokeWidth: 3, strokeDasharray: "11,6", strokeLinecap: "butt"}),
      Plot.line(p.internal, {x: d => d[0], y: d => d[1], stroke: "#000000", strokeWidth: 4}),
      Plot.text(yTicks, {x: d => 0, y: d => d, text: d => String(d), textAnchor: "end", dx: -48, fontSize: 47, fill: GREY}),
      Plot.text(p.labels, {x: (d, i) => i, y: d => 0, text: d => d, rotate: -45, textAnchor: "end", lineAnchor: "top", dx: p.labelDx, dy: p.labelDy, fontSize: 48, fill: GREY})
    ]
  });
  svg.classList.add("panel");
  svg.style.left = p.left + "px";
  svg.style.top = p.top + "px";
  page.appendChild(svg);

  addText(p.letter, p.letterPos[0], p.letterPos[1], 80);
  addText(p.title, p.titlePos[0], p.titlePos[1], 76, {transform: "translateX(-50%)"});
  addText("Temperature (°C)", p.yTitle[0], p.yTitle[1], 64, {transform: "translate(-50%,-50%) rotate(-90deg)"});
  addText("Date", p.datePos[0], p.datePos[1], 53, {transform: "translate(-50%,-50%)"});
}

// legend
const blackLine = document.createElement("div");
blackLine.style.cssText = "position:absolute;left:1908px;top:2526px;width:61px;height:0;border-top:3.5px solid #000;";
page.appendChild(blackLine);
addText(seriesNames[0], 2009, 2508, 40);
const dash = document.createElementNS("http://www.w3.org/2000/svg", "svg");
dash.setAttribute("width", "74"); dash.setAttribute("height", "10");
dash.style.cssText = "position:absolute;left:2154px;top:2523px;";
dash.innerHTML = '<line x1="0" y1="5" x2="74" y2="5" stroke="#808080" stroke-width="3" stroke-dasharray="5,3"/>';
page.appendChild(dash);
addText(seriesNames[1], 2255, 2508, 40);
</script>
</body></html>
